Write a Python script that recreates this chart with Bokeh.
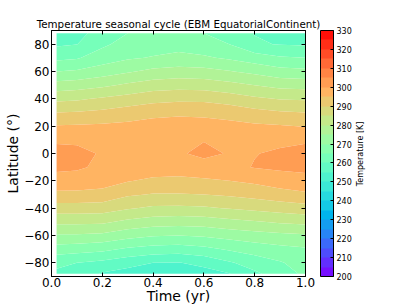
import math
import numpy as np
from bokeh.plotting import figure
from bokeh.models import (ColorBar, LinearColorMapper, FixedTicker, LinearAxis,
                          CustomJSTickFormatter, Range1d)
from bokeh.embed import file_html
from bokeh.resources import INLINE

# ---------------- data ----------------
time_yr = [0.02, 0.1, 0.2, 0.3, 0.4, 0.5, 0.6, 0.7, 0.8, 0.9, 1.0]
latitude = [-88, -80, -70, -60, -50, -40, -30, -20, -10, 0, 10, 20, 30, 40, 50, 60, 70, 80, 88]

# temperature [K] along latitude (south -> north) at each time
T_t002 = [259.0, 261.2, 267.7, 274.3, 281.3, 287.6, 293.8, 298.1, 301.0, 301.6, 299.3, 295.4, 290.0, 283.8, 277.0, 270.0, 263.8, 259.2, 257.0]
T_t010 = [258.0, 260.0, 267.1, 274.3, 281.3, 287.6, 293.8, 297.9, 300.7, 301.2, 299.2, 295.5, 290.3, 284.3, 277.7, 270.7, 264.5, 259.9, 258.5]
T_t020 = [254.5, 258.8, 266.2, 273.8, 281.0, 287.4, 293.4, 297.0, 299.0, 299.6, 298.6, 295.8, 291.1, 285.6, 279.0, 272.5, 267.5, 264.0, 262.0]
T_t030 = [253.0, 256.8, 264.2, 271.8, 278.9, 285.5, 290.7, 295.3, 298.2, 299.2, 298.7, 296.2, 292.4, 286.9, 280.9, 274.4, 269.4, 267.0, 265.0]
T_t040 = [252.0, 255.0, 263.1, 270.4, 277.5, 284.1, 289.7, 294.1, 297.5, 299.0, 299.0, 297.0, 293.5, 288.3, 282.5, 276.3, 270.3, 268.1, 266.5]
T_t050 = [251.5, 254.8, 262.7, 270.0, 277.1, 284.0, 289.7, 293.8, 297.3, 299.5, 299.3, 297.0, 294.2, 288.9, 283.1, 276.9, 271.3, 268.3, 266.5]
T_t060 = [253.0, 256.4, 263.6, 270.7, 277.5, 284.3, 290.0, 294.2, 298.3, 301.0, 299.8, 296.8, 294.0, 288.8, 282.8, 276.6, 270.6, 267.4, 265.0]
T_t070 = [254.8, 259.4, 265.6, 271.9, 278.6, 285.3, 290.7, 295.0, 298.5, 299.7, 298.5, 296.4, 293.2, 287.6, 281.6, 275.3, 269.3, 265.0, 262.5]
T_t080 = [259.0, 262.3, 267.2, 272.9, 279.6, 286.2, 291.7, 296.0, 300.3, 299.8, 298.0, 295.8, 291.6, 285.9, 280.0, 273.7, 267.4, 260.7, 259.8]
T_t090 = [262.5, 264.5, 268.5, 273.8, 280.7, 287.2, 292.9, 297.7, 300.8, 300.8, 298.8, 295.4, 290.5, 284.7, 278.5, 271.9, 265.6, 259.7, 257.5]
T_t100 = [266.0, 267.5, 269.4, 274.4, 281.4, 288.0, 294.1, 298.4, 301.2, 301.5, 299.4, 294.8, 290.0, 284.4, 278.1, 271.2, 265.0, 259.5, 257.0]

levels = list(range(200, 331, 5))          # contour levels (K)
cbar_ticks = list(range(200, 331, 10))     # colour-bar tick labels
x_ticks = [0.0, 0.2, 0.4, 0.6, 0.8, 1.0]
y_ticks = [-80, -60, -40, -20, 0, 20, 40, 60, 80]
cbar_title = "Temperature [K]"

columns = [T_t002, T_t010, T_t020, T_t030, T_t040, T_t050,
           T_t060, T_t070, T_t080, T_t090, T_t100]
temperature = np.array(columns).T          # shape (n_lat, n_time)

# ---------------- style ----------------
def rainbow(v):
    x = (v - levels[0]) / (levels[-1] - levels[0])
    r = min(1.0, abs(2 * x - 0.5))
    g = math.sin(math.pi * x)
    b = math.cos(math.pi * x / 2)
    return "#%02x%02x%02x" % (round(255 * r), round(255 * g), round(255 * b))

palette = [rainbow((a + b) / 2) for a, b in zip(levels[:-1], levels[1:])]
FONT = "DejaVu Sans"

W, H = 409, 307
p = figure(width=W, height=H,
           x_range=Range1d(0, 1), y_range=Range1d(-90, 90),
           output_backend="svg", toolbar_location=None,
           title="Temperature seasonal cycle (EBM EquatorialContinent)",
           min_border_left=51, min_border_top=30, min_border_right=W - 51 - 254,
           min_border_bottom=31)
p.background_fill_color = "white"
p.border_fill_color = "white"
p.outline_line_color = "black"
p.outline_line_width = 1
p.grid.visible = False

p.title.text_font = FONT
p.title.text_font_size = "10.3px"
p.title.text_font_style = "normal"
p.title.text_color = "black"
p.title.align = "center"
p.title.standoff = 2

p.contour(x=time_yr, y=latitude, z=temperature, levels=levels,
          fill_color=palette, line_color=None)

fmt_x = CustomJSTickFormatter(code="return tick.toFixed(1);")
fmt_y = CustomJSTickFormatter(code="return (tick < 0 ? '\u2212' : '') + Math.abs(tick).toFixed(0);")
fmt_none = CustomJSTickFormatter(code="return '';")

def style_axis(ax):
    ax.axis_line_color = "black"
    ax.major_tick_line_color = "black"
    ax.major_tick_in = 4
    ax.major_tick_out = 0
    ax.minor_tick_line_color = None
    ax.major_label_text_font = FONT
    ax.major_label_text_font_size = "12px"
    ax.major_label_text_color = "black"
    ax.axis_label_text_font = FONT
    ax.axis_label_text_font_size = "14px"
    ax.axis_label_text_font_style = "normal"
    ax.axis_label_text_color = "black"

p.xaxis.ticker = FixedTicker(ticks=x_ticks)
p.xaxis.formatter = fmt_x
p.xaxis.axis_label = "Time (yr)"
p.yaxis.ticker = FixedTicker(ticks=y_ticks)
p.yaxis.formatter = fmt_y
p.yaxis.axis_label = "Latitude (\u00b0)"
style_axis(p.xaxis[0])
style_axis(p.yaxis[0])
p.xaxis.major_label_standoff = 1
p.yaxis.major_label_standoff = 2
p.xaxis.axis_label_standoff = -2
p.yaxis.axis_label_standoff = 0

# tick marks on top and right edges (no labels)
for loc, tk in (("above", x_ticks), ("right", y_ticks)):
    ax = LinearAxis(ticker=FixedTicker(ticks=tk), formatter=fmt_none)
    style_axis(ax)
    ax.major_label_standoff = 0
    p.add_layout(ax, loc)

mapper = LinearColorMapper(palette=palette, low=levels[0], high=levels[-1])
cb = ColorBar(color_mapper=mapper, ticker=FixedTicker(ticks=cbar_ticks),
              width=13, height=246, padding=0, margin=0, location=(15, 0),
              bar_line_color="black", major_tick_line_color="black",
              major_tick_in=3, major_tick_out=0, label_standoff=3,
              major_label_text_font=FONT, major_label_text_font_size="8px",
              major_label_text_color="black", background_fill_color=None,
              border_line_color=None)
p.add_layout(cb, "right")

# colour-bar title: a single rotated tick label on an otherwise empty right axis
# (tick placed where the bottom of the rotated text should start)
lab = LinearAxis(ticker=FixedTicker(ticks=[-24]),
                 formatter=CustomJSTickFormatter(code="return '%s';" % cbar_title))
lab.axis_line_color = None
lab.major_tick_line_color = None
lab.minor_tick_line_color = None
lab.major_label_orientation = math.pi / 2
lab.major_label_standoff = 0
lab.major_label_text_font = FONT
lab.major_label_text_font_size = "8px"
lab.major_label_text_color = "black"
p.add_layout(lab, "right")

open("out.html", "w").write(file_html(p, INLINE))
